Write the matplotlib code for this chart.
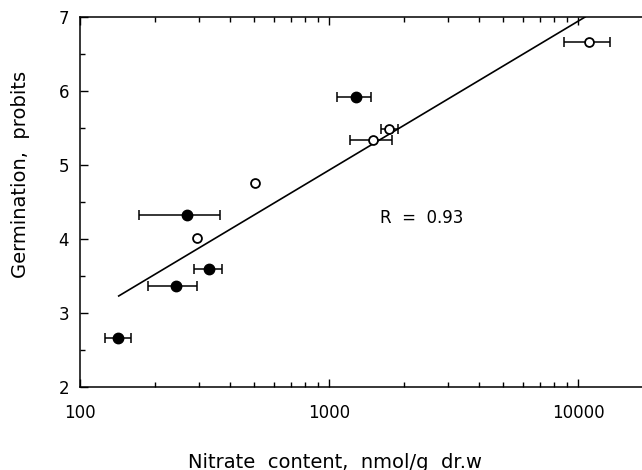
import matplotlib
matplotlib.use("Agg")
import matplotlib.pyplot as plt
from matplotlib.ticker import LogLocator, FixedLocator, NullFormatter

# Filled circles
filled_x = [142, 242, 328, 270, 1280]
filled_y = [2.66, 3.36, 3.59, 4.33, 5.92]
filled_xlo = [126, 187, 286, 172, 1077]
filled_xhi = [160, 296, 370, 366, 1472]

# Open circles (lo == hi means no error bar)
open_x = [294, 506, 1500, 1740, 11030]
open_y = [4.02, 4.76, 5.34, 5.49, 6.66]
open_xlo = [294, 506, 1210, 1610, 8770]
open_xhi = [294, 506, 1786, 1888, 13390]

# Regression line end points
fit_x = [143, 10640]
fit_y = [3.23, 7.0]

r_text = "R  =  0.93"
x_label = "Nitrate  content,  nmol/g  dr.w"
y_label = "Germination,  probits"

plt.rcParams['font.family'] = ['DejaVu Sans']

fig = plt.figure(figsize=(6.42, 4.70), dpi=100)
ax = fig.add_axes([80/642, 1-387/470, 1-80/642, (387-17)/470])

def draw(xs, ys, los, his, **mk):
    ex, ey, elo, ehi = [], [], [], []
    for x, y, lo, hi in zip(xs, ys, los, his):
        if hi > lo:
            ex.append(x); ey.append(y); elo.append(x - lo); ehi.append(hi - x)
    ax.errorbar(ex, ey, xerr=[elo, ehi], fmt='none', ecolor='black',
                elinewidth=1.1, capsize=3.5, capthick=1.1, zorder=2)
    ax.plot(xs, ys, 'o', linestyle='none', zorder=3, **mk)

ax.plot(fit_x, fit_y, color='black', lw=1.2, zorder=1)

draw(open_x, open_y, open_xlo, open_xhi, mfc='white', mec='black', mew=1.3, ms=6.4)
draw(filled_x, filled_y, filled_xlo, filled_xhi, mfc='black', mec='black', ms=7.5)

ax.set_xscale('log')
ax.set_xlim(100, 18000)
ax.set_ylim(2, 7)

ax.xaxis.set_major_locator(FixedLocator([100, 1000, 10000]))
ax.set_xticklabels(['100', '1000', '10000'])
ax.xaxis.set_minor_locator(LogLocator(base=10, subs=range(2, 10)))
ax.xaxis.set_minor_formatter(NullFormatter())
ax.set_yticks([2, 3, 4, 5, 6, 7])
ax.set_yticks([2.5, 3.5, 4.5, 5.5, 6.5], minor=True)

ax.tick_params(which='both', direction='in', top=True, right=False,
               labelsize=12, width=1.0, pad=8)
ax.tick_params(which='major', length=6)
ax.tick_params(which='minor', length=3.5)
ax.tick_params(axis='x', pad=12)

ax.spines['right'].set_visible(False)
for s in ['left', 'top', 'bottom']:
    ax.spines[s].set_linewidth(1.1)

ax.text(2360, 4.28, r_text, ha='center', va='center', fontsize=12)

fig.text(335/642, 1-462/470, x_label, ha='center', va='center', fontsize=14)
fig.text(21/642, 1-174/470, y_label, ha='center', va='center', rotation=90, fontsize=14)

fig.savefig('out.png', dpi=100)
